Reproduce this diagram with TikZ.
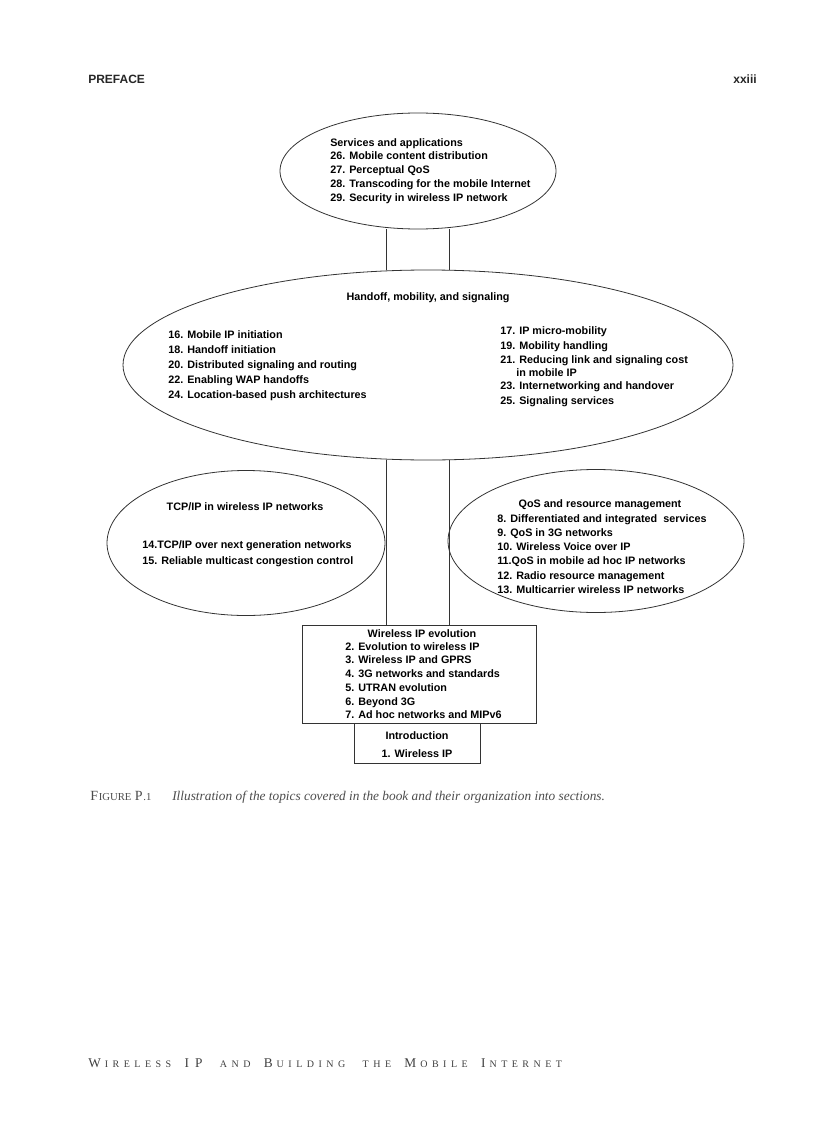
\documentclass[tikz,border=0pt]{standalone}
\usepackage{xcolor}
\usepackage{fontspec}
\setmainfont{Liberation Serif}
\setsansfont{Liberation Sans}
\newfontfamily\footfont[LetterSpace=45]{Liberation Serif}
\usetikzlibrary{arrows,positioning,shapes.geometric}

\newcommand\fakesc[2]{{\fontsize{10}{10}\selectfont #1}\kern3pt{\fontsize{7.5}{7.5}\selectfont #2}}
\newcommand\capsc[2]{{\fontsize{10.5}{10.5}\selectfont #1}\kern0.6pt{\fontsize{8}{8}\selectfont #2}}

\begin{document}
\begin{tikzpicture}[x=0.75pt, y=-0.75pt, >=latex,
  every node/.style={inner sep=0pt, font=\sffamily\bfseries\fontsize{8.1}{10.3}\selectfont},
  topic/.style={draw=black!80, line width=0.6pt, ellipse},
  secbox/.style={draw=black!80, line width=0.6pt, rectangle},
  link/.style={draw=black!80, line width=0.6pt},
  listing/.style={align=left, anchor=north west},
  headline/.style={anchor=north}]

  \useasboundingbox (0,0) rectangle (816,1123);

  % Page header
  \node (hdr) [anchor=base west, font=\sffamily\bfseries\fontsize{9}{9}\selectfont, text=black!85] at (88,84) {PREFACE};
  \node (pageno) [anchor=base east, font=\sffamily\bfseries\fontsize{9}{9}\selectfont, text=black!85] at (757,84) {xxiii};

  % Sections
  \node (svc) [topic, minimum width=207pt, minimum height=87pt] at (418,171) {};
  \node (hand) [topic, minimum width=457.5pt, minimum height=142.5pt] at (428,365) {};
  \node (tcp) [topic, minimum width=208.5pt, minimum height=108.75pt] at (246,543) {};
  \node (qos) [topic, minimum width=222pt, minimum height=107.25pt] at (596,541) {};
  \node (evo) [secbox, minimum width=175.5pt, minimum height=73.5pt] at (419,674) {};
  \node (intro) [secbox, below=0pt of evo, minimum width=94.5pt, minimum height=30pt, xshift=-1.5pt] {};

  % Connectors
  \coordinate (cl) at (386,0);
  \coordinate (cr) at (449,0);
  \draw[link] (cl |- svc.south) -- (cl |- hand.north);
  \draw[link] (cr |- svc.south) -- (cr |- hand.north);
  \draw[link] (cl |- hand.south) -- (cl |- evo.north);
  \draw[link] (cr |- hand.south) -- (cr |- evo.north);

  % Services and applications
  \node (svctxt) [listing] at (330,138) {Services and applications\\
    26. Mobile content distribution\\
    27. Perceptual QoS\\
    28. Transcoding for the mobile Internet\\
    29. Security in wireless IP network};

  % Handoff, mobility, and signaling
  \node (handttl) [headline] at (428,292) {Handoff, mobility, and signaling};
  \node (handl) [listing, font=\sffamily\bfseries\fontsize{8.1}{11.3}\selectfont] at (168,330) {16. Mobile IP initiation\\
    18. Handoff initiation\\
    20. Distributed signaling and routing\\
    22. Enabling WAP handoffs\\
    24. Location-based push architectures};
  \node (handr) [listing, font=\sffamily\bfseries\fontsize{8.1}{11.2}\selectfont] at (500,326) {17. IP micro-mobility\\
    19. Mobility handling\\
    21. Reducing link and signaling cost\\[-1.5pt]
    \hspace*{12pt}in mobile IP\\[-1.5pt]
    23. Internetworking and handover\\
    25. Signaling services};

  % TCP/IP
  \node (tcpttl) [headline] at (245,502) {TCP/IP in wireless IP networks};
  \node (tcpl) [listing, font=\sffamily\bfseries\fontsize{8.1}{12}\selectfont] at (142,540) {14.TCP/IP over next generation networks\\
    15. Reliable multicast congestion control};

  % QoS
  \node (qosttl) [headline] at (600,499) {QoS and resource management};
  \node (qosl) [listing, font=\sffamily\bfseries\fontsize{8.1}{10.7}\selectfont] at (497,514) {8. Differentiated and integrated\ \ services\\
    9. QoS in 3G networks\\
    10. Wireless Voice over IP\\
    11.QoS in mobile ad hoc IP networks\\
    12. Radio resource management\\
    13. Multicarrier wireless IP networks};

  % Wireless IP evolution
  \node (evottl) [headline] at (422,629) {Wireless IP evolution};
  \node (evol) [listing] at (345,642) {2. Evolution to wireless IP\\
    3. Wireless IP and GPRS\\
    4. 3G networks and standards\\
    5. UTRAN evolution\\
    6. Beyond 3G\\
    7. Ad hoc networks and MIPv6};

  % Introduction
  \node (introttl) [headline] at (417,731) {Introduction};
  \node (introl) [headline] at (417,749) {1. Wireless IP};

  % Caption
  \node (capnum) [anchor=base west, font=\rmfamily, text=black!70] at (90,800) {\capsc{F}{IGURE}\ \capsc{P}{.1}};
  \node (captxt) [anchor=base west, font=\rmfamily\itshape\fontsize{10}{10}\selectfont, text=black!70] at (172,800) {Illustration of the topics covered in the book and their organization into sections.};

  % Footer
  \node (foot) [anchor=base west, font=\footfont, text=black!75] at (88,1067) {\fakesc{W}{IRELESS}\quad{\fontsize{10}{10}\selectfont IP}\quad\fakesc{}{AND}\quad\fakesc{B}{UILDING}\quad\fakesc{}{THE}\quad\fakesc{M}{OBILE}\quad\fakesc{I}{NTERNET}};

\end{tikzpicture}
\end{document}
